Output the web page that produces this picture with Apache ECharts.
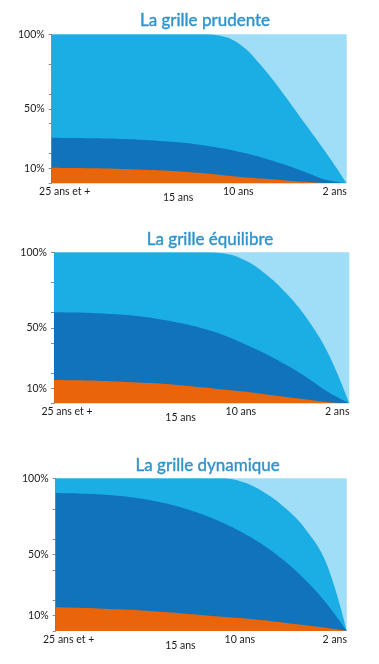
<!DOCTYPE html>
<html>
<head>
<meta charset="utf-8">
<script src="https://cdn.jsdelivr.net/npm/echarts@6/dist/echarts.min.js"></script>
<style>
html,body{margin:0;padding:0;background:#fff;}
#chart{width:379px;height:664px;}
</style>
</head>
<body>
<div id="chart"></div>
<script>
// ---- data (years until the horizon, cumulative boundaries in %) ----
const years = [25.5, 23.75, 22, 20.25, 18.5, 16.75, 15, 13.25, 11.5, 9.75, 8, 6.25, 4.5, 2.75, 1];

const prudenteMid    = [100,100,100,100,100,100,100,100,99,92.5,78,60,40.5,21,0];
const prudenteDark   = [30.6,30.4,30.2,29.9,29.4,28.6,27.5,25.9,23.7,20.8,17.2,12.8,7.7,2.3,0];
const prudenteOrange = [10.5,10.3,10.1,9.8,9.3,8.8,8.1,7.0,5.6,4.3,3.2,2.1,1.0,0.15,0];

const equilibreMid    = [100,100,100,100,100,100,100,100,99.3,95,86,73,56,33,0];
const equilibreDark   = [60.3,60.1,59.7,58.9,57.6,55.7,53.1,49.7,45.4,39.5,33,25.5,17,7.5,0];
const equilibreOrange = [15.5,15.3,15,14.5,13.8,13.1,12,10.7,9.2,7.8,6,4.2,2.5,0.7,0];

const dynamiqueMid    = [100,100,100,100,100,100,100,100,100,97.5,91,81,67,45,0];
const dynamiqueDark   = [90.4,90.1,89.6,88.6,86.9,84.4,81.0,76.6,71.1,64.4,56.2,46,33.5,18.5,0];
const dynamiqueOrange = [15.5,15.2,14.8,14.2,13.6,12.6,11.7,10.5,9.3,8.3,7,5.4,3.8,2.1,0];

const titles = ['La grille prudente', 'La grille équilibre', 'La grille dynamique'];
const xTickValues = [25, 15, 10, 2];
const xTickLabels = ['25 ans et +', '15 ans', '10 ans', '2 ans'];
const yTickValues = [10, 50, 100];
const yMinorTicks = [0, 10, 20, 40, 50, 60, 80, 100];

// ---- style / layout ----
const COLORS = { light: '#a0ddf6', mid: '#1baee4', dark: '#1073bc', orange: '#ea650a' };
const FONT = 'Lato';
const panels = [
  { grid: { left: 51.7, top: 34.3, width: 295, height: 149 }, title: { x: 200, y: 7 },
    series: [prudenteMid, prudenteDark, prudenteOrange] },
  { grid: { left: 54, top: 252.3, width: 295.3, height: 151 }, title: { x: 205, y: 226 },
    series: [equilibreMid, equilibreDark, equilibreOrange] },
  { grid: { left: 55.7, top: 478.3, width: 291, height: 152.7 }, title: { x: 202.7, y: 452 },
    series: [dynamiqueMid, dynamiqueDark, dynamiqueOrange] }
];

const option = { animation: false, title: [], grid: [], xAxis: [], yAxis: [], series: [] };

panels.forEach((p, i) => {
  option.title.push({
    text: titles[i], left: p.title.x, top: p.title.y, textAlign: 'center',
    textStyle: { fontFamily: FONT, fontSize: 17, fontWeight: 'normal', color: '#2f93cc',
      textBorderColor: '#2f93cc', textBorderWidth: 0.4 }
  });
  option.grid.push(Object.assign({ show: true, backgroundColor: COLORS.light, borderWidth: 0 }, p.grid));
  option.xAxis.push({
    gridIndex: i, type: 'value', min: 1, max: 25.5, inverse: true,
    axisLine: { show: false }, axisTick: { show: false }, splitLine: { show: false },
    axisLabel: {
      customValues: xTickValues, margin: 3, color: '#1a1a1a', fontFamily: FONT, fontSize: 10.5,
      formatter: function (v) {
        const k = xTickValues.indexOf(v);
        const t = xTickLabels[k];
        if (k === 0) return '{a|' + t + '}';
        if (k === 1) return '{b|' + t + '}';
        return t;
      },
      rich: {
        a: { padding: [0, 0, 0, 14], fontFamily: FONT, fontSize: 10.5, color: '#1a1a1a' },
        b: { padding: [6, 0, 0, 0], fontFamily: FONT, fontSize: 10.5, color: '#1a1a1a' }
      }
    }
  });
  option.yAxis.push({
    gridIndex: i, type: 'value', min: 0, max: 100,
    axisLine: { show: true, lineStyle: { color: '#8c8c8c', width: 1 } },
    axisTick: { show: true, customValues: yMinorTicks, length: 3, lineStyle: { color: '#8c8c8c' } },
    splitLine: { show: false },
    axisLabel: {
      customValues: yTickValues, margin: 7, color: '#1a1a1a', fontFamily: FONT, fontSize: 10.5,
      padding: [0, 0, 4, 0],
      formatter: v => v + '%'
    }
  });
  const cols = [COLORS.mid, COLORS.dark, COLORS.orange];
  p.series.forEach((arr, j) => {
    option.series.push({
      type: 'line', xAxisIndex: i, yAxisIndex: i, smooth: 0.4,
      symbol: 'none', clip: true,
      lineStyle: { width: 0 }, areaStyle: { color: cols[j], opacity: 1 },
      data: years.map((x, k) => [x, arr[k]])
    });
  });
});

const chart = echarts.init(document.getElementById('chart'), null, { renderer: 'canvas' });
chart.setOption(option);
</script>
</body>
</html>
